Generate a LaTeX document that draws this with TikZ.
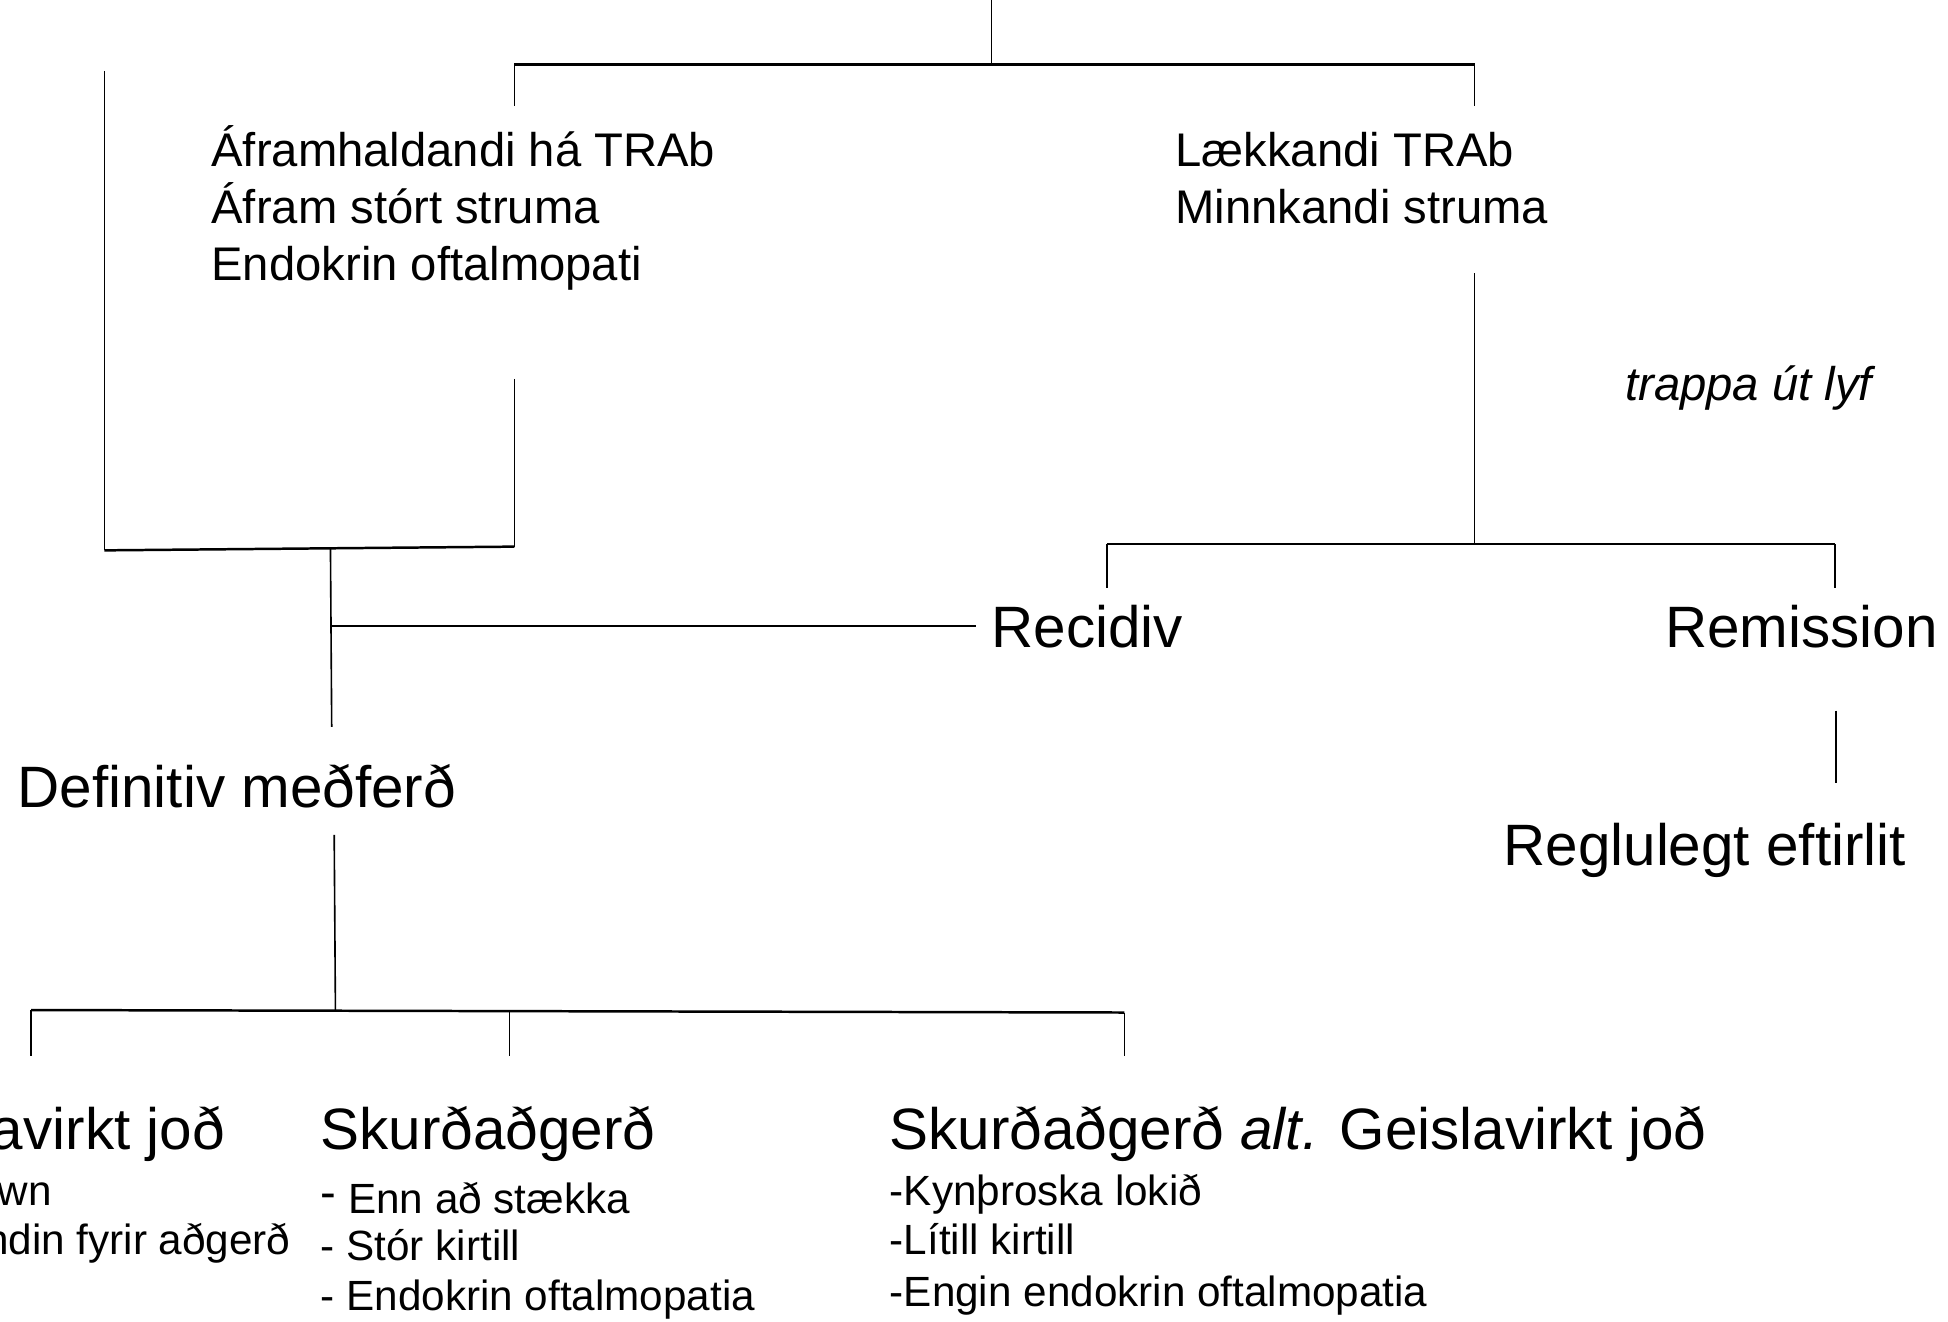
\documentclass[tikz,border=0pt]{standalone}
\usepackage{fontspec}
\setmainfont{Liberation Sans}
\begin{document}
\begin{tikzpicture}[x=1pt,y=-1pt,
  big/.style={inner sep=0pt,font=\fontsize{47}{56}\selectfont},
  mid/.style={inner sep=0pt,font=\fontsize{38}{46}\selectfont},
  sub/.style={inner sep=0pt,font=\fontsize{34}{41}\selectfont},
  vline/.style={line width=1.3pt},
  hline/.style={line width=2pt}]
\useasboundingbox (0,0) rectangle (1568,1064);

% upper branch texts
\node[mid,anchor=base west] (hi1) at (170,134) {Áframhaldandi há TRAb};
\node[mid,anchor=base west] (hi2) at (170,180) {Áfram stórt struma};
\node[mid,anchor=base west] (hi3) at (170,226) {Endokrin oftalmopati};
\node[mid,anchor=base west] (lo1) at (946,134) {Lækkandi TRAb};
\node[mid,anchor=base west] (lo2) at (946,180) {Minnkandi struma};
\node[mid,anchor=base west,font=\fontsize{38}{46}\selectfont\itshape] (taper) at (1308,322) {trappa út lyf};

% middle outcomes
\node[big,anchor=base west] (rec) at (798,521) {Recidiv};
\node[big,anchor=base west] (rem) at (1340,521) {Remission};
\node[big,anchor=base west] (follow) at (1210,697) {Reglulegt eftirlit};
\node[big,anchor=base west] (defin) at (14,650) {Definitiv meðferð};

% treatment options
\node[big,anchor=base east] (rai) at (181,925) {Geislavirkt joð};
\node[sub,anchor=base east] (rai1) at (42,970) {wn};
\node[sub,anchor=base east] (rai2) at (234,1010) {ndin fyrir aðgerð};
\node[big,anchor=base west] (surg) at (258,925) {Skurðaðgerð};
\node[sub,anchor=base west] (surg1) at (258,977) {\raisebox{4pt}{\fontsize{38}{41}\selectfont-} Enn að stækka};
\node[sub,anchor=base west] (surg2) at (258,1015) {- Stór kirtill};
\node[sub,anchor=base west] (surg3) at (258,1055) {- Endokrin oftalmopatia};
\node[big,anchor=base west] (alt) at (716,925) {Skurðaðgerð \textit{alt.} Geislavirkt joð};
\node[sub,anchor=base west] (alt1) at (716,970) {-Kynþroska lokið};
\node[sub,anchor=base west] (alt2) at (716,1010) {-Lítill kirtill};
\node[sub,anchor=base west] (alt3) at (716,1052) {-Engin endokrin oftalmopatia};

% junction points
\coordinate (top) at (798,0);
\coordinate (topj) at (798,52);
\coordinate (tl) at (414,52);
\coordinate (tr) at (1187,52);
\coordinate (tld) at (414,85);
\coordinate (trd) at (1187,85);
\coordinate (hiout) at (414,305);
\coordinate (hij) at (414,440);
\coordinate (farl) at (84,57);
\coordinate (farlj) at (84,443);
\coordinate (mj) at (266,442);
\coordinate (mjr) at (267,504);
\coordinate (mjd) at (267,585);
\coordinate (recin) at (786,504);
\coordinate (loout) at (1187,220);
\coordinate (loj) at (1187,438);
\coordinate (recj) at (891,438);
\coordinate (remj) at (1477,438);
\coordinate (recd) at (891,473);
\coordinate (remd) at (1477,473);
\coordinate (remo) at (1478,572);
\coordinate (remf) at (1478,630);
\coordinate (defo) at (269,672);
\coordinate (defj) at (270,814);
\coordinate (bl) at (25,813);
\coordinate (bm) at (410,814);
\coordinate (br) at (905,815);
\coordinate (bld) at (25,850);
\coordinate (bmd) at (410,850);
\coordinate (brd) at (905,850);

% connectors
\draw[vline] (top) -- (topj);
\draw[hline] (tl) -- (tr);
\draw[vline] (tl) -- (tld);
\draw[vline] (tr) -- (trd);
\draw[vline] (hiout) -- (hij);
\draw[vline] (farl) -- (farlj);
\draw[hline] (farlj) -- (hij);
\draw[vline] (mj) -- (mjd);
\draw[hline] (mjr) -- (recin);
\draw[vline] (loout) -- (loj);
\draw[hline] (recj) -- (remj);
\draw[vline] (recj) -- (recd);
\draw[vline] (remj) -- (remd);
\draw[vline] (remo) -- (remf);
\draw[vline] (defo) -- (defj);
\draw[hline] (bl) -- (br);
\draw[vline] (bl) -- (bld);
\draw[vline] (bm) -- (bmd);
\draw[vline] (br) -- (brd);
\end{tikzpicture}
\end{document}
